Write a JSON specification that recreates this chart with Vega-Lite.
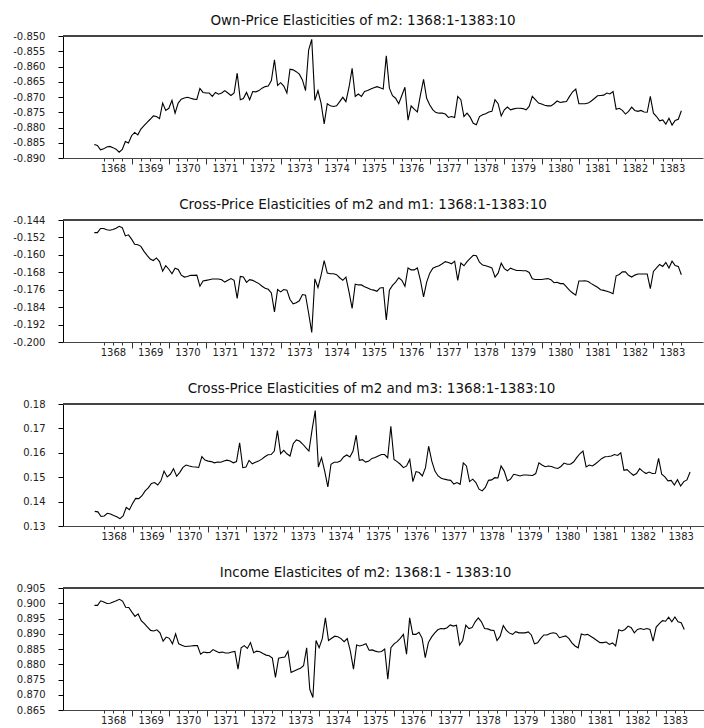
{
"$schema": "https://vega.github.io/schema/vega-lite/v6.json",
"background": "white",
"padding": {"left": 12, "top": 13, "right": 0, "bottom": 0},
"spacing": 21,
"align": "none",
"config": {
"view": {"stroke": null},
"locale": {"number": {"decimal": ".", "thousands": ",", "grouping": [3], "currency": ["$", ""], "minus": "-"}},
"title": {"font": "DejaVu Sans", "fontSize": 13.5, "fontWeight": "normal", "color": "#111", "baseline": "alphabetic", "offset": 4},
"axisY": {"tickSize": 5, "labelPadding": 13, "labelOverlap": false, "domainColor": "#000", "tickColor": "#000", "labelFont": "DejaVu Sans", "labelFontSize": 10, "labelColor": "#222", "grid": false, "title": null},
"axisX": {"domainColor": "#444", "tickColor": "#333", "labelFont": "DejaVu Sans", "labelFontSize": 10, "labelColor": "#222", "labelPadding": 2, "grid": false, "title": null}
},
"datasets": {"d": [
{"t":1368,"own":-0.8856,"c1":-0.1498,"c3":0.1360,"inc":0.8993},
{"t":1368.0833,"own":-0.8859,"c1":-0.1498,"c3":0.1358,"inc":0.8993},
{"t":1368.1667,"own":-0.8873,"c1":-0.1479,"c3":0.1339,"inc":0.9008},
{"t":1368.25,"own":-0.8870,"c1":-0.1479,"c3":0.1341,"inc":0.9004},
{"t":1368.3333,"own":-0.8864,"c1":-0.1485,"c3":0.1352,"inc":0.8999},
{"t":1368.4167,"own":-0.8862,"c1":-0.1487,"c3":0.1349,"inc":0.9000},
{"t":1368.5,"own":-0.8866,"c1":-0.1484,"c3":0.1343,"inc":0.9004},
{"t":1368.5833,"own":-0.8871,"c1":-0.1478,"c3":0.1338,"inc":0.9008},
{"t":1368.6667,"own":-0.8881,"c1":-0.1469,"c3":0.1330,"inc":0.9013},
{"t":1368.75,"own":-0.8872,"c1":-0.1475,"c3":0.1341,"inc":0.9007},
{"t":1368.8333,"own":-0.8846,"c1":-0.1513,"c3":0.1376,"inc":0.8987},
{"t":1368.9167,"own":-0.8851,"c1":-0.1508,"c3":0.1367,"inc":0.8986},
{"t":1369,"own":-0.8827,"c1":-0.1528,"c3":0.1392,"inc":0.8971},
{"t":1369.0833,"own":-0.8816,"c1":-0.1551,"c3":0.1413,"inc":0.8957},
{"t":1369.1667,"own":-0.8824,"c1":-0.1554,"c3":0.1412,"inc":0.8965},
{"t":1369.25,"own":-0.8805,"c1":-0.1561,"c3":0.1424,"inc":0.8943},
{"t":1369.3333,"own":-0.8794,"c1":-0.1584,"c3":0.1444,"inc":0.8933},
{"t":1369.4167,"own":-0.8783,"c1":-0.1602,"c3":0.1456,"inc":0.8922},
{"t":1369.5,"own":-0.8773,"c1":-0.1619,"c3":0.1474,"inc":0.8911},
{"t":1369.5833,"own":-0.8762,"c1":-0.1626,"c3":0.1478,"inc":0.8909},
{"t":1369.6667,"own":-0.8764,"c1":-0.1614,"c3":0.1468,"inc":0.8913},
{"t":1369.75,"own":-0.8771,"c1":-0.1631,"c3":0.1485,"inc":0.8903},
{"t":1369.8333,"own":-0.8720,"c1":-0.1675,"c3":0.1525,"inc":0.8876},
{"t":1369.9167,"own":-0.8744,"c1":-0.1650,"c3":0.1501,"inc":0.8889},
{"t":1370,"own":-0.8737,"c1":-0.1666,"c3":0.1512,"inc":0.8885},
{"t":1370.0833,"own":-0.8711,"c1":-0.1687,"c3":0.1535,"inc":0.8867},
{"t":1370.1667,"own":-0.8753,"c1":-0.1661,"c3":0.1504,"inc":0.8900},
{"t":1370.25,"own":-0.8720,"c1":-0.1667,"c3":0.1520,"inc":0.8867},
{"t":1370.3333,"own":-0.8707,"c1":-0.1693,"c3":0.1540,"inc":0.8862},
{"t":1370.4167,"own":-0.8703,"c1":-0.1702,"c3":0.1550,"inc":0.8858},
{"t":1370.5,"own":-0.8701,"c1":-0.1699,"c3":0.1546,"inc":0.8859},
{"t":1370.5833,"own":-0.8704,"c1":-0.1694,"c3":0.1543,"inc":0.8860},
{"t":1370.6667,"own":-0.8707,"c1":-0.1694,"c3":0.1542,"inc":0.8861},
{"t":1370.75,"own":-0.8708,"c1":-0.1693,"c3":0.1540,"inc":0.8861},
{"t":1370.8333,"own":-0.8672,"c1":-0.1744,"c3":0.1584,"inc":0.8833},
{"t":1370.9167,"own":-0.8685,"c1":-0.1720,"c3":0.1570,"inc":0.8840},
{"t":1371,"own":-0.8687,"c1":-0.1717,"c3":0.1566,"inc":0.8838},
{"t":1371.0833,"own":-0.8687,"c1":-0.1714,"c3":0.1564,"inc":0.8839},
{"t":1371.1667,"own":-0.8698,"c1":-0.1711,"c3":0.1559,"inc":0.8848},
{"t":1371.25,"own":-0.8685,"c1":-0.1711,"c3":0.1562,"inc":0.8843},
{"t":1371.3333,"own":-0.8691,"c1":-0.1711,"c3":0.1561,"inc":0.8838},
{"t":1371.4167,"own":-0.8687,"c1":-0.1714,"c3":0.1566,"inc":0.8840},
{"t":1371.5,"own":-0.8679,"c1":-0.1725,"c3":0.1570,"inc":0.8837},
{"t":1371.5833,"own":-0.8687,"c1":-0.1717,"c3":0.1566,"inc":0.8837},
{"t":1371.6667,"own":-0.8695,"c1":-0.1709,"c3":0.1559,"inc":0.8840},
{"t":1371.75,"own":-0.8687,"c1":-0.1717,"c3":0.1564,"inc":0.8842},
{"t":1371.8333,"own":-0.8622,"c1":-0.1800,"c3":0.1641,"inc":0.8784},
{"t":1371.9167,"own":-0.8709,"c1":-0.1699,"c3":0.1539,"inc":0.8854},
{"t":1372,"own":-0.8705,"c1":-0.1702,"c3":0.1542,"inc":0.8861},
{"t":1372.0833,"own":-0.8685,"c1":-0.1726,"c3":0.1569,"inc":0.8852},
{"t":1372.1667,"own":-0.8709,"c1":-0.1714,"c3":0.1555,"inc":0.8871},
{"t":1372.25,"own":-0.8682,"c1":-0.1717,"c3":0.1561,"inc":0.8838},
{"t":1372.3333,"own":-0.8683,"c1":-0.1725,"c3":0.1566,"inc":0.8843},
{"t":1372.4167,"own":-0.8679,"c1":-0.1732,"c3":0.1574,"inc":0.8841},
{"t":1372.5,"own":-0.8671,"c1":-0.1744,"c3":0.1584,"inc":0.8835},
{"t":1372.5833,"own":-0.8666,"c1":-0.1753,"c3":0.1592,"inc":0.8830},
{"t":1372.6667,"own":-0.8664,"c1":-0.1758,"c3":0.1593,"inc":0.8828},
{"t":1372.75,"own":-0.8646,"c1":-0.1775,"c3":0.1607,"inc":0.8820},
{"t":1372.8333,"own":-0.8578,"c1":-0.1862,"c3":0.1691,"inc":0.8757},
{"t":1372.9167,"own":-0.8662,"c1":-0.1759,"c3":0.1596,"inc":0.8820},
{"t":1373,"own":-0.8653,"c1":-0.1770,"c3":0.1610,"inc":0.8822},
{"t":1373.0833,"own":-0.8664,"c1":-0.1759,"c3":0.1596,"inc":0.8824},
{"t":1373.1667,"own":-0.8687,"c1":-0.1762,"c3":0.1587,"inc":0.8843},
{"t":1373.25,"own":-0.8609,"c1":-0.1805,"c3":0.1637,"inc":0.8773},
{"t":1373.3333,"own":-0.8611,"c1":-0.1825,"c3":0.1653,"inc":0.8778},
{"t":1373.4167,"own":-0.8617,"c1":-0.1820,"c3":0.1648,"inc":0.8783},
{"t":1373.5,"own":-0.8625,"c1":-0.1811,"c3":0.1636,"inc":0.8787},
{"t":1373.5833,"own":-0.8644,"c1":-0.1782,"c3":0.1621,"inc":0.8795},
{"t":1373.6667,"own":-0.8679,"c1":-0.1785,"c3":0.1607,"inc":0.8854},
{"t":1373.75,"own":-0.8546,"c1":-0.1868,"c3":0.1695,"inc":0.8718},
{"t":1373.8333,"own":-0.8511,"c1":-0.1956,"c3":0.1773,"inc":0.8691},
{"t":1373.9167,"own":-0.8711,"c1":-0.1710,"c3":0.1542,"inc":0.8878},
{"t":1374,"own":-0.8679,"c1":-0.1750,"c3":0.1580,"inc":0.8854},
{"t":1374.0833,"own":-0.8720,"c1":-0.1694,"c3":0.1525,"inc":0.8884},
{"t":1374.1667,"own":-0.8788,"c1":-0.1626,"c3":0.1460,"inc":0.8952},
{"t":1374.25,"own":-0.8722,"c1":-0.1684,"c3":0.1553,"inc":0.8878},
{"t":1374.3333,"own":-0.8729,"c1":-0.1687,"c3":0.1561,"inc":0.8885},
{"t":1374.4167,"own":-0.8731,"c1":-0.1687,"c3":0.1561,"inc":0.8892},
{"t":1374.5,"own":-0.8729,"c1":-0.1691,"c3":0.1566,"inc":0.8890},
{"t":1374.5833,"own":-0.8715,"c1":-0.1705,"c3":0.1583,"inc":0.8884},
{"t":1374.6667,"own":-0.8701,"c1":-0.1717,"c3":0.1591,"inc":0.8874},
{"t":1374.75,"own":-0.8715,"c1":-0.1702,"c3":0.1583,"inc":0.8884},
{"t":1374.8333,"own":-0.8668,"c1":-0.1770,"c3":0.1607,"inc":0.8843},
{"t":1374.9167,"own":-0.8606,"c1":-0.1846,"c3":0.1672,"inc":0.8784},
{"t":1375,"own":-0.8698,"c1":-0.1735,"c3":0.1569,"inc":0.8863},
{"t":1375.0833,"own":-0.8690,"c1":-0.1738,"c3":0.1572,"inc":0.8860},
{"t":1375.1667,"own":-0.8698,"c1":-0.1738,"c3":0.1562,"inc":0.8863},
{"t":1375.25,"own":-0.8682,"c1":-0.1746,"c3":0.1566,"inc":0.8867},
{"t":1375.3333,"own":-0.8679,"c1":-0.1752,"c3":0.1577,"inc":0.8846},
{"t":1375.4167,"own":-0.8674,"c1":-0.1759,"c3":0.1581,"inc":0.8847},
{"t":1375.5,"own":-0.8670,"c1":-0.1762,"c3":0.1587,"inc":0.8843},
{"t":1375.5833,"own":-0.8666,"c1":-0.1767,"c3":0.1593,"inc":0.8840},
{"t":1375.6667,"own":-0.8670,"c1":-0.1752,"c3":0.1593,"inc":0.8842},
{"t":1375.75,"own":-0.8674,"c1":-0.1750,"c3":0.1580,"inc":0.8850},
{"t":1375.8333,"own":-0.8565,"c1":-0.1899,"c3":0.1709,"inc":0.8751},
{"t":1375.9167,"own":-0.8671,"c1":-0.1762,"c3":0.1573,"inc":0.8854},
{"t":1376,"own":-0.8696,"c1":-0.1740,"c3":0.1564,"inc":0.8867},
{"t":1376.0833,"own":-0.8704,"c1":-0.1725,"c3":0.1553,"inc":0.8874},
{"t":1376.1667,"own":-0.8722,"c1":-0.1705,"c3":0.1539,"inc":0.8885},
{"t":1376.25,"own":-0.8695,"c1":-0.1717,"c3":0.1546,"inc":0.8898},
{"t":1376.3333,"own":-0.8668,"c1":-0.1744,"c3":0.1573,"inc":0.8833},
{"t":1376.4167,"own":-0.8776,"c1":-0.1660,"c3":0.1482,"inc":0.8952},
{"t":1376.5,"own":-0.8729,"c1":-0.1669,"c3":0.1523,"inc":0.8898},
{"t":1376.5833,"own":-0.8740,"c1":-0.1669,"c3":0.1519,"inc":0.8898},
{"t":1376.6667,"own":-0.8749,"c1":-0.1660,"c3":0.1505,"inc":0.8905},
{"t":1376.75,"own":-0.8693,"c1":-0.1717,"c3":0.1539,"inc":0.8885},
{"t":1376.8333,"own":-0.8642,"c1":-0.1793,"c3":0.1627,"inc":0.8822},
{"t":1376.9167,"own":-0.8704,"c1":-0.1725,"c3":0.1566,"inc":0.8871},
{"t":1377,"own":-0.8726,"c1":-0.1684,"c3":0.1525,"inc":0.8889},
{"t":1377.0833,"own":-0.8742,"c1":-0.1661,"c3":0.1505,"inc":0.8902},
{"t":1377.1667,"own":-0.8751,"c1":-0.1655,"c3":0.1496,"inc":0.8913},
{"t":1377.25,"own":-0.8753,"c1":-0.1650,"c3":0.1492,"inc":0.8917},
{"t":1377.3333,"own":-0.8753,"c1":-0.1641,"c3":0.1489,"inc":0.8916},
{"t":1377.4167,"own":-0.8756,"c1":-0.1631,"c3":0.1487,"inc":0.8920},
{"t":1377.5,"own":-0.8767,"c1":-0.1635,"c3":0.1472,"inc":0.8929},
{"t":1377.5833,"own":-0.8764,"c1":-0.1641,"c3":0.1478,"inc":0.8925},
{"t":1377.6667,"own":-0.8767,"c1":-0.1629,"c3":0.1471,"inc":0.8928},
{"t":1377.75,"own":-0.8698,"c1":-0.1717,"c3":0.1559,"inc":0.8863},
{"t":1377.8333,"own":-0.8709,"c1":-0.1638,"c3":0.1546,"inc":0.8878},
{"t":1377.9167,"own":-0.8764,"c1":-0.1650,"c3":0.1482,"inc":0.8928},
{"t":1378,"own":-0.8753,"c1":-0.1631,"c3":0.1492,"inc":0.8917},
{"t":1378.0833,"own":-0.8766,"c1":-0.1616,"c3":0.1478,"inc":0.8920},
{"t":1378.1667,"own":-0.8786,"c1":-0.1602,"c3":0.1451,"inc":0.8939},
{"t":1378.25,"own":-0.8791,"c1":-0.1604,"c3":0.1444,"inc":0.8952},
{"t":1378.3333,"own":-0.8764,"c1":-0.1634,"c3":0.1458,"inc":0.8939},
{"t":1378.4167,"own":-0.8758,"c1":-0.1647,"c3":0.1487,"inc":0.8917},
{"t":1378.5,"own":-0.8755,"c1":-0.1650,"c3":0.1489,"inc":0.8916},
{"t":1378.5833,"own":-0.8749,"c1":-0.1655,"c3":0.1498,"inc":0.8912},
{"t":1378.6667,"own":-0.8747,"c1":-0.1660,"c3":0.1497,"inc":0.8911},
{"t":1378.75,"own":-0.8709,"c1":-0.1702,"c3":0.1546,"inc":0.8878},
{"t":1378.8333,"own":-0.8722,"c1":-0.1684,"c3":0.1525,"inc":0.8892},
{"t":1378.9167,"own":-0.8762,"c1":-0.1638,"c3":0.1485,"inc":0.8927},
{"t":1379,"own":-0.8742,"c1":-0.1663,"c3":0.1492,"inc":0.8911},
{"t":1379.0833,"own":-0.8733,"c1":-0.1673,"c3":0.1512,"inc":0.8902},
{"t":1379.1667,"own":-0.8742,"c1":-0.1661,"c3":0.1509,"inc":0.8898},
{"t":1379.25,"own":-0.8739,"c1":-0.1667,"c3":0.1505,"inc":0.8907},
{"t":1379.3333,"own":-0.8737,"c1":-0.1672,"c3":0.1509,"inc":0.8903},
{"t":1379.4167,"own":-0.8737,"c1":-0.1672,"c3":0.1509,"inc":0.8903},
{"t":1379.5,"own":-0.8738,"c1":-0.1673,"c3":0.1508,"inc":0.8903},
{"t":1379.5833,"own":-0.8742,"c1":-0.1673,"c3":0.1507,"inc":0.8906},
{"t":1379.6667,"own":-0.8731,"c1":-0.1681,"c3":0.1515,"inc":0.8896},
{"t":1379.75,"own":-0.8698,"c1":-0.1710,"c3":0.1559,"inc":0.8867},
{"t":1379.8333,"own":-0.8709,"c1":-0.1713,"c3":0.1550,"inc":0.8870},
{"t":1379.9167,"own":-0.8720,"c1":-0.1713,"c3":0.1543,"inc":0.8885},
{"t":1380,"own":-0.8723,"c1":-0.1713,"c3":0.1546,"inc":0.8896},
{"t":1380.0833,"own":-0.8727,"c1":-0.1711,"c3":0.1544,"inc":0.8896},
{"t":1380.1667,"own":-0.8729,"c1":-0.1709,"c3":0.1539,"inc":0.8901},
{"t":1380.25,"own":-0.8729,"c1":-0.1714,"c3":0.1536,"inc":0.8903},
{"t":1380.3333,"own":-0.8722,"c1":-0.1728,"c3":0.1544,"inc":0.8901},
{"t":1380.4167,"own":-0.8713,"c1":-0.1726,"c3":0.1558,"inc":0.8887},
{"t":1380.5,"own":-0.8718,"c1":-0.1732,"c3":0.1553,"inc":0.8890},
{"t":1380.5833,"own":-0.8716,"c1":-0.1732,"c3":0.1553,"inc":0.8893},
{"t":1380.6667,"own":-0.8715,"c1":-0.1747,"c3":0.1562,"inc":0.8885},
{"t":1380.75,"own":-0.8698,"c1":-0.1763,"c3":0.1580,"inc":0.8870},
{"t":1380.8333,"own":-0.8683,"c1":-0.1775,"c3":0.1596,"inc":0.8860},
{"t":1380.9167,"own":-0.8674,"c1":-0.1785,"c3":0.1607,"inc":0.8854},
{"t":1381,"own":-0.8722,"c1":-0.1720,"c3":0.1542,"inc":0.8899},
{"t":1381.0833,"own":-0.8722,"c1":-0.1720,"c3":0.1550,"inc":0.8896},
{"t":1381.1667,"own":-0.8722,"c1":-0.1719,"c3":0.1546,"inc":0.8898},
{"t":1381.25,"own":-0.8720,"c1":-0.1722,"c3":0.1555,"inc":0.8892},
{"t":1381.3333,"own":-0.8713,"c1":-0.1732,"c3":0.1566,"inc":0.8885},
{"t":1381.4167,"own":-0.8705,"c1":-0.1741,"c3":0.1577,"inc":0.8878},
{"t":1381.5,"own":-0.8696,"c1":-0.1749,"c3":0.1584,"inc":0.8871},
{"t":1381.5833,"own":-0.8695,"c1":-0.1760,"c3":0.1585,"inc":0.8871},
{"t":1381.6667,"own":-0.8694,"c1":-0.1763,"c3":0.1587,"inc":0.8873},
{"t":1381.75,"own":-0.8687,"c1":-0.1767,"c3":0.1593,"inc":0.8865},
{"t":1381.8333,"own":-0.8690,"c1":-0.1772,"c3":0.1589,"inc":0.8870},
{"t":1381.9167,"own":-0.8682,"c1":-0.1778,"c3":0.1600,"inc":0.8860},
{"t":1382,"own":-0.8740,"c1":-0.1696,"c3":0.1528,"inc":0.8913},
{"t":1382.0833,"own":-0.8737,"c1":-0.1690,"c3":0.1531,"inc":0.8909},
{"t":1382.1667,"own":-0.8744,"c1":-0.1678,"c3":0.1519,"inc":0.8914},
{"t":1382.25,"own":-0.8756,"c1":-0.1678,"c3":0.1508,"inc":0.8925},
{"t":1382.3333,"own":-0.8747,"c1":-0.1694,"c3":0.1515,"inc":0.8920},
{"t":1382.4167,"own":-0.8733,"c1":-0.1702,"c3":0.1535,"inc":0.8903},
{"t":1382.5,"own":-0.8744,"c1":-0.1693,"c3":0.1524,"inc":0.8914},
{"t":1382.5833,"own":-0.8747,"c1":-0.1688,"c3":0.1515,"inc":0.8917},
{"t":1382.6667,"own":-0.8744,"c1":-0.1688,"c3":0.1521,"inc":0.8914},
{"t":1382.75,"own":-0.8749,"c1":-0.1688,"c3":0.1515,"inc":0.8917},
{"t":1382.8333,"own":-0.8750,"c1":-0.1688,"c3":0.1516,"inc":0.8914},
{"t":1382.9167,"own":-0.8698,"c1":-0.1755,"c3":0.1577,"inc":0.8876},
{"t":1383,"own":-0.8753,"c1":-0.1676,"c3":0.1512,"inc":0.8922},
{"t":1383.0833,"own":-0.8764,"c1":-0.1660,"c3":0.1501,"inc":0.8933},
{"t":1383.1667,"own":-0.8778,"c1":-0.1644,"c3":0.1485,"inc":0.8943},
{"t":1383.25,"own":-0.8775,"c1":-0.1653,"c3":0.1487,"inc":0.8941},
{"t":1383.3333,"own":-0.8789,"c1":-0.1635,"c3":0.1468,"inc":0.8954},
{"t":1383.4167,"own":-0.8770,"c1":-0.1660,"c3":0.1490,"inc":0.8939},
{"t":1383.5,"own":-0.8792,"c1":-0.1629,"c3":0.1464,"inc":0.8955},
{"t":1383.5833,"own":-0.8777,"c1":-0.1649,"c3":0.1482,"inc":0.8939},
{"t":1383.6667,"own":-0.8773,"c1":-0.1653,"c3":0.1489,"inc":0.8936},
{"t":1383.75,"own":-0.8745,"c1":-0.1691,"c3":0.1521,"inc":0.8914}
]},
"vconcat": [
{
"width": 640, "height": 122,
"title": {"text": "Own-Price Elasticities of m2: 1368:1-1383:10", "dx": -20},
"data": {"name": "d"},
"layer": [
{"mark": {"type": "line", "color": "#000", "strokeWidth": 1.1},
"encoding": {
"x": {"field": "t", "type": "quantitative", "scale": {"domain": [1367.16, 1384.33], "nice": false, "zero": false},
"axis": {"values": [1368.25,1368.5,1368.75,1369,1369.25,1369.5,1369.75,1370,1370.25,1370.5,1370.75,1371,1371.25,1371.5,1371.75,1372,1372.25,1372.5,1372.75,1373,1373.25,1373.5,1373.75,1374,1374.25,1374.5,1374.75,1375,1375.25,1375.5,1375.75,1376,1376.25,1376.5,1376.75,1377,1377.25,1377.5,1377.75,1378,1378.25,1378.5,1378.75,1379,1379.25,1379.5,1379.75,1380,1380.25,1380.5,1380.75,1381,1381.25,1381.5,1381.75,1382,1382.25,1382.5,1382.75,1383,1383.25,1383.5,1383.75],
"labelExpr": "datum.value % 1 == 0.5 ? format(floor(datum.value), 'd') : ''", "labelOverlap": false, "labelFlush": false,
"tickSize": {"condition": {"test": "datum.value % 1 == 0", "value": 6}, "value": 3}}},
"y": {"field": "own", "type": "quantitative", "scale": {"domain": [-0.89, -0.85], "nice": false, "zero": false},
"axis": {"values": [-0.89,-0.885,-0.88,-0.875,-0.87,-0.865,-0.86,-0.855,-0.85], "format": ".3f", "labelOverlap": false}}
}},
{"mark": {"type": "rule", "color": "#444", "strokeWidth": 1}, "encoding": {"y": {"datum": -0.85, "type": "quantitative", "axis": {"values": [-0.89,-0.885,-0.88,-0.875,-0.87,-0.865,-0.86,-0.855,-0.85], "format": ".3f", "labelOverlap": false}}}}
]
},
{
"width": 640, "height": 122,
"title": {"text": "Cross-Price Elasticities of m2 and m1: 1368:1-1383:10", "dx": -20},
"data": {"name": "d"},
"layer": [
{"mark": {"type": "line", "color": "#000", "strokeWidth": 1.1},
"encoding": {
"x": {"field": "t", "type": "quantitative", "scale": {"domain": [1367.16, 1384.33], "nice": false, "zero": false},
"axis": {"values": [1368.25,1368.5,1368.75,1369,1369.25,1369.5,1369.75,1370,1370.25,1370.5,1370.75,1371,1371.25,1371.5,1371.75,1372,1372.25,1372.5,1372.75,1373,1373.25,1373.5,1373.75,1374,1374.25,1374.5,1374.75,1375,1375.25,1375.5,1375.75,1376,1376.25,1376.5,1376.75,1377,1377.25,1377.5,1377.75,1378,1378.25,1378.5,1378.75,1379,1379.25,1379.5,1379.75,1380,1380.25,1380.5,1380.75,1381,1381.25,1381.5,1381.75,1382,1382.25,1382.5,1382.75,1383,1383.25,1383.5,1383.75],
"labelExpr": "datum.value % 1 == 0.5 ? format(floor(datum.value), 'd') : ''", "labelOverlap": false, "labelFlush": false,
"tickSize": {"condition": {"test": "datum.value % 1 == 0", "value": 6}, "value": 3}}},
"y": {"field": "c1", "type": "quantitative", "scale": {"domain": [-0.2, -0.144], "nice": false, "zero": false},
"axis": {"values": [-0.2,-0.192,-0.184,-0.176,-0.168,-0.16,-0.152,-0.144], "format": ".3f", "labelOverlap": false}}
}},
{"mark": {"type": "rule", "color": "#444", "strokeWidth": 1}, "encoding": {"y": {"datum": -0.144, "type": "quantitative", "axis": {"values": [-0.2,-0.192,-0.184,-0.176,-0.168,-0.16,-0.152,-0.144], "format": ".3f", "labelOverlap": false}}}}
]
},
{
"width": 649, "height": 122,
"title": {"text": "Cross-Price Elasticities of m2 and m3: 1368:1-1383:10", "dx": -16},
"data": {"name": "d"},
"layer": [
{"mark": {"type": "line", "color": "#000", "strokeWidth": 1.1},
"encoding": {
"x": {"field": "t", "type": "quantitative", "scale": {"domain": [1367.16, 1384.33], "nice": false, "zero": false},
"axis": {"values": [1368.25,1368.5,1368.75,1369,1369.25,1369.5,1369.75,1370,1370.25,1370.5,1370.75,1371,1371.25,1371.5,1371.75,1372,1372.25,1372.5,1372.75,1373,1373.25,1373.5,1373.75,1374,1374.25,1374.5,1374.75,1375,1375.25,1375.5,1375.75,1376,1376.25,1376.5,1376.75,1377,1377.25,1377.5,1377.75,1378,1378.25,1378.5,1378.75,1379,1379.25,1379.5,1379.75,1380,1380.25,1380.5,1380.75,1381,1381.25,1381.5,1381.75,1382,1382.25,1382.5,1382.75,1383,1383.25,1383.5,1383.75],
"labelExpr": "datum.value % 1 == 0.5 ? format(floor(datum.value), 'd') : ''", "labelOverlap": false, "labelFlush": false,
"tickSize": {"condition": {"test": "datum.value % 1 == 0", "value": 6}, "value": 3}}},
"y": {"field": "c3", "type": "quantitative", "scale": {"domain": [0.13, 0.18], "nice": false, "zero": false},
"axis": {"values": [0.13,0.14,0.15,0.16,0.17,0.18], "format": ".2f", "labelOverlap": false}}
}},
{"mark": {"type": "rule", "color": "#444", "strokeWidth": 1}, "encoding": {"y": {"datum": 0.18, "type": "quantitative", "axis": {"values": [0.13,0.14,0.15,0.16,0.17,0.18], "format": ".2f", "labelOverlap": false}}}}
]
},
{
"width": 643, "height": 122,
"title": {"text": "Income Elasticites of m2: 1368:1 - 1383:10", "dx": -19},
"data": {"name": "d"},
"layer": [
{"mark": {"type": "line", "color": "#000", "strokeWidth": 1.1},
"encoding": {
"x": {"field": "t", "type": "quantitative", "scale": {"domain": [1367.16, 1384.33], "nice": false, "zero": false},
"axis": {"values": [1368.25,1368.5,1368.75,1369,1369.25,1369.5,1369.75,1370,1370.25,1370.5,1370.75,1371,1371.25,1371.5,1371.75,1372,1372.25,1372.5,1372.75,1373,1373.25,1373.5,1373.75,1374,1374.25,1374.5,1374.75,1375,1375.25,1375.5,1375.75,1376,1376.25,1376.5,1376.75,1377,1377.25,1377.5,1377.75,1378,1378.25,1378.5,1378.75,1379,1379.25,1379.5,1379.75,1380,1380.25,1380.5,1380.75,1381,1381.25,1381.5,1381.75,1382,1382.25,1382.5,1382.75,1383,1383.25,1383.5,1383.75],
"labelExpr": "datum.value % 1 == 0.5 ? format(floor(datum.value), 'd') : ''", "labelOverlap": false, "labelFlush": false,
"tickSize": {"condition": {"test": "datum.value % 1 == 0", "value": 6}, "value": 3}}},
"y": {"field": "inc", "type": "quantitative", "scale": {"domain": [0.865, 0.905], "nice": false, "zero": false},
"axis": {"values": [0.865,0.87,0.875,0.88,0.885,0.89,0.895,0.9,0.905], "format": ".3f", "labelOverlap": false}}
}},
{"mark": {"type": "rule", "color": "#444", "strokeWidth": 1}, "encoding": {"y": {"datum": 0.905, "type": "quantitative", "axis": {"values": [0.865,0.87,0.875,0.88,0.885,0.89,0.895,0.9,0.905], "format": ".3f", "labelOverlap": false}}}}
]
}
]
}
